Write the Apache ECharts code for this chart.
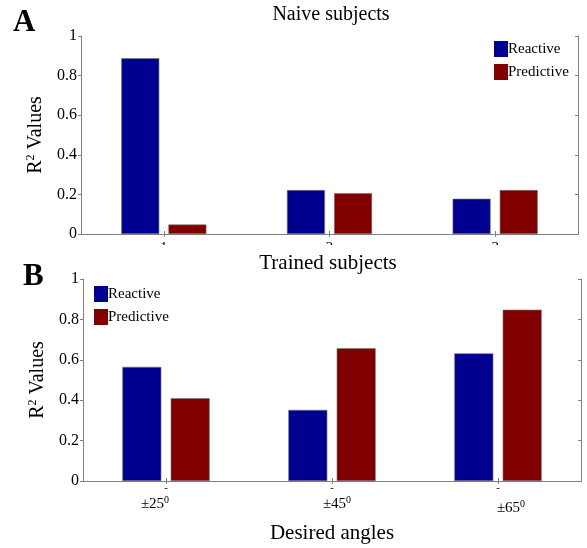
<!DOCTYPE html>
<html>
<head>
<meta charset="utf-8">
<script src="https://cdn.jsdelivr.net/npm/echarts@6/dist/echarts.min.js"></script>
<style>html,body{margin:0;padding:0;background:#fff}#c{width:587px;height:548px}</style>
</head>
<body>
<div id="c"></div>
<script>
const categoriesA = ['1', '2', '3'];
const reactiveA = [0.888, 0.222, 0.178];
const predictiveA = [0.048, 0.206, 0.222];
const categoriesB = ['±25', '±45', '±65'];
const reactiveB = [0.565, 0.352, 0.632];
const predictiveB = [0.410, 0.657, 0.848];
const yTicks = [0, 0.2, 0.4, 0.6, 0.8, 1];

const FONT = 'Liberation Serif';
const AX = '#808080';
const BLUE = '#000090';
const RED = '#800000';

const chart = echarts.init(document.getElementById('c'), null, {renderer: 'canvas'});

function yLabel(v) { const r = Math.round(v * 10) / 10; return yTicks.indexOf(r) >= 0 ? String(r) : ''; }

function leftY(gi) {
  return {
    gridIndex: gi, type: 'value', min: 0, max: 1, interval: 0.2,
    name: '{r|R}{s|2}{r| Values}', nameLocation: 'middle', nameGap: 33, nameRotate: 90,
    nameTextStyle: {fontFamily: FONT, fontSize: 20, color: '#000',
      rich: {r: {fontFamily: FONT, fontSize: 20, lineHeight: 22, color: '#000'},
             s: {fontFamily: FONT, fontSize: 12, lineHeight: 22, verticalAlign: 'top', color: '#000'}}},
    axisLine: {show: true, lineStyle: {color: AX}},
    axisTick: {show: true, inside: false, length: 3, lineStyle: {color: AX}},
    axisLabel: {fontFamily: FONT, fontSize: 16, color: '#000', margin: 4, formatter: yLabel},
    splitLine: {show: false}
  };
}
function rightY(gi) {
  return {
    gridIndex: gi, type: 'value', min: 0, max: 1, interval: 0.2, position: 'right',
    axisLine: {show: true, lineStyle: {color: AX}},
    axisTick: {show: true, inside: true, length: 3, lineStyle: {color: AX}},
    axisLabel: {show: false}, splitLine: {show: false}
  };
}
function topX(gi, cats) {
  return {
    gridIndex: gi, type: 'category', data: cats, position: 'top',
    axisLine: {show: true, lineStyle: {color: AX}},
    axisTick: {show: true, inside: true, alignWithLabel: true, length: 3, lineStyle: {color: AX}},
    axisLabel: {show: false}
  };
}

const legendCommon = {
  orient: 'vertical', itemWidth: 14, itemHeight: 16, itemGap: 7, padding: 0,
  icon: 'rect', data: ['Reactive', 'Predictive'],
  itemStyle: {borderWidth: 0},
  textStyle: {fontFamily: FONT, fontSize: 15, color: '#000', padding: [0, 0, 0, -5]}
};

const option = {
  backgroundColor: '#fff',
  animation: false,
  title: [
    {text: 'Naive subjects', left: 326, top: 0, textAlign: 'center',
     textStyle: {fontFamily: FONT, fontSize: 20, fontWeight: 'normal', color: '#000'}},
    {text: 'Trained subjects', left: 323, top: 248, textAlign: 'center', z: 200,
     textStyle: {fontFamily: FONT, fontSize: 21, fontWeight: 'normal', color: '#000'}},
    {text: 'A', left: 8, top: 2,
     textStyle: {fontFamily: FONT, fontSize: 31, fontWeight: 'bold', color: '#000'}},
    {text: 'B', left: 18, top: 256,
     textStyle: {fontFamily: FONT, fontSize: 31, fontWeight: 'bold', color: '#000'}}
  ],
  legend: [
    Object.assign({left: 494, top: 41}, legendCommon),
    Object.assign({left: 94, top: 286}, legendCommon)
  ],
  grid: [
    {left: 81, top: 36, width: 497, height: 198},
    {left: 83, top: 279, width: 498, height: 202}
  ],
  xAxis: [
    {gridIndex: 0, type: 'category', data: categoriesA,
     axisLine: {show: true, lineStyle: {color: AX}},
     axisTick: {show: true, inside: true, alignWithLabel: true, length: 3, lineStyle: {color: AX}},
     axisLabel: {fontFamily: FONT, fontSize: 15, color: '#000', margin: 7}},
    topX(0, categoriesA),
    {gridIndex: 1, type: 'category', data: categoriesB,
     axisLine: {show: true, lineStyle: {color: AX}},
     axisTick: {show: true, inside: true, alignWithLabel: true, length: 3, lineStyle: {color: AX}},
     axisLabel: {fontFamily: FONT, color: '#000', margin: 2,
       formatter: function (v, i) { return '{d|-}\n{n' + i + '|' + v + '}{s' + i + '|0}'; },
       rich: {
         d: {fontSize: 11, lineHeight: 10, fontFamily: FONT, color: '#000'},
         n0: {fontSize: 15, lineHeight: 22, fontFamily: FONT, color: '#000', padding: [0, 0, 0, 0]},
         s0: {fontSize: 10, lineHeight: 22, fontFamily: FONT, color: '#000', verticalAlign: 'top', padding: [2, 22, 0, 0]},
         n1: {fontSize: 15, lineHeight: 22, fontFamily: FONT, color: '#000', padding: [0, 0, 0, 10]},
         s1: {fontSize: 10, lineHeight: 22, fontFamily: FONT, color: '#000', verticalAlign: 'top', padding: [2, 0, 0, 0]},
         n2: {fontSize: 15, lineHeight: 26, fontFamily: FONT, color: '#000', padding: [4, 0, 0, 26]},
         s2: {fontSize: 10, lineHeight: 26, fontFamily: FONT, color: '#000', verticalAlign: 'top', padding: [6, 0, 0, 0]}
       }},
     name: 'Desired angles', nameLocation: 'middle', nameGap: 42,
     nameTextStyle: {fontFamily: FONT, fontSize: 21, color: '#000'}},
    topX(1, categoriesB)
  ],
  yAxis: [leftY(0), rightY(0), leftY(1), rightY(1)],
  graphic: [
    {type: 'rect', z: 100, shape: {x: 95, y: 245, width: 480, height: 8}, style: {fill: '#fff'}}
  ],
  series: [
    {name: 'Reactive', type: 'bar', xAxisIndex: 0, yAxisIndex: 0, data: reactiveA,
     barWidth: 38, barGap: '24%', itemStyle: {color: BLUE, borderColor: '#777', borderWidth: 0.6}},
    {name: 'Predictive', type: 'bar', xAxisIndex: 0, yAxisIndex: 0, data: predictiveA,
     barWidth: 38, barGap: '24%', itemStyle: {color: RED, borderColor: '#777', borderWidth: 0.6}},
    {name: 'Reactive', type: 'bar', xAxisIndex: 2, yAxisIndex: 2, data: reactiveB,
     barWidth: 39, barGap: '24%', itemStyle: {color: BLUE, borderColor: '#777', borderWidth: 0.6}},
    {name: 'Predictive', type: 'bar', xAxisIndex: 2, yAxisIndex: 2, data: predictiveB,
     barWidth: 39, barGap: '24%', itemStyle: {color: RED, borderColor: '#777', borderWidth: 0.6}}
  ]
};
chart.setOption(option);
</script>
</body>
</html>
